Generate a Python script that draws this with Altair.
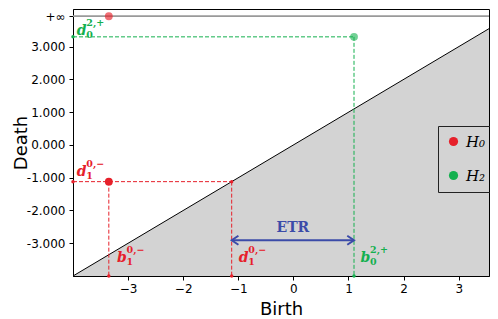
import altair as alt
import pandas as pd

# ---- axis extents and special values ----
x_min, x_max = -4.0, 3.55
y_min, y_max = -4.0, 4.15
inf_y = 3.93

x_ticks = [-3, -2, -1, 0, 1, 2, 3]
y_ticks = [-3.0, -2.0, -1.0, 0.0, 1.0, 2.0, 3.0, inf_y]

# ---- persistence points ----
pt_series = ["H0", "H0", "H2"]
pt_birth = [-3.35, -3.35, 1.1]
pt_death = [inf_y, -1.12, 3.3]
pt_alpha = [0.65, 1.0, 0.6]

# ---- dashed guide segments ----
seg_series = ["H0", "H0", "H0", "H2", "H2"]
seg_x = [-4.0, -3.35, -1.12, -4.0, 1.1]
seg_y = [-1.12, -1.12, -1.12, 3.3, 3.3]
seg_x2 = [-1.12, -3.35, -1.12, 1.1, 1.1]
seg_y2 = [-1.12, -4.0, -4.0, 3.3, -4.0]

# ---- small end dots ----
dot_series = ["H0", "H0", "H0", "H0", "H2", "H2"]
dot_x = [-4.0, -3.35, -1.12, -1.12, -4.0, 1.1]
dot_y = [-1.12, -4.0, -1.12, -4.0, 3.3, -4.0]

# ---- annotation labels ----
lab_series = ["H2", "H0", "H0", "H0", "H2"]
lab_base = ["d", "d", "b", "d", "b"]
lab_sup = ["2,+", "0,−", "0,−", "0,−", "2,+"]
lab_sub = ["0", "1", "1", "1", "0"]
lab_x = [-3.93, -3.93, -3.2, -0.99, 1.22]
lab_y = [3.36, -0.96, -3.57, -3.57, -3.57]

# ---- ETR arrow ----
etr_x = [-1.12]
etr_x2 = [1.1]
etr_y = [-2.91]
etr_text = ["ETR"]
etr_text_x = [-0.01]
etr_text_y = [-2.67]

series_colors = {"H0": "#e6202a", "H2": "#14b04f"}
blue = "#3b4ba8"

xs = alt.Scale(domain=[x_min, x_max], nice=False, zero=False)
ys = alt.Scale(domain=[y_min, y_max], nice=False, zero=False)

diag = pd.DataFrame({"x": [x_min, x_max], "y": [x_min, x_max], "floor": [y_min, y_min]})
pts = pd.DataFrame({"series": pt_series, "birth": pt_birth, "death": pt_death, "alpha": pt_alpha})
segs = pd.DataFrame({"series": seg_series, "x": seg_x, "y": seg_y, "x2": seg_x2, "y2": seg_y2})
segs["col"] = segs["series"].map(series_colors)
dots = pd.DataFrame({"series": dot_series, "x": dot_x, "y": dot_y})
dots["col"] = dots["series"].map(series_colors)
labs = pd.DataFrame({"series": lab_series, "base": lab_base, "sup": lab_sup, "sub": lab_sub,
                     "x": lab_x, "y": lab_y})
labs["col"] = labs["series"].map(series_colors)
etr = pd.DataFrame({"x": etr_x, "x2": etr_x2, "y": etr_y})
etr_t = pd.DataFrame({"t": etr_text, "x": etr_text_x, "y": etr_text_y})

y_label_expr = ("datum.value > 3.5 ? '+∞' : replace(format(datum.value, '.3f'), '\u2212', '-')")

X_AX = alt.Axis(values=x_ticks, format="d", labelPadding=3, titleY=38, titleX=208,
                titleBaseline="alphabetic", labelOverlap=False, labelFlush=False)
Y_AX = alt.Axis(values=y_ticks, labelExpr=y_label_expr, labelPadding=4,
                labelOverlap=False, labelFlush=False, labelSeparation=0,
                titleX=-47, titleY=133.5, titleBaseline="alphabetic")


def X(field):
    return alt.X(field, scale=xs, title="Birth", axis=X_AX)


def Y(field):
    return alt.Y(field, scale=ys, title="Death", axis=Y_AX)


area = alt.Chart(diag).mark_area(color="#d3d3d3").encode(
    x=X("x:Q"), y=Y("y:Q"), y2="floor:Q")
diag_line = alt.Chart(diag).mark_line(color="black", strokeWidth=1).encode(
    x=X("x:Q"), y=Y("y:Q"))
inf_rule = alt.Chart(diag).mark_rule(color="#9a9a9a", strokeWidth=1.5).encode(
    y=alt.datum(inf_y, scale=ys, title="Death", axis=Y_AX))

seg_layer = alt.Chart(segs).mark_rule(strokeDash=[4, 2], strokeWidth=1).encode(
    x=X("x:Q"), y=Y("y:Q"), x2="x2:Q", y2="y2:Q",
    color=alt.Color("col:N", scale=None))
dot_layer = alt.Chart(dots).mark_circle(size=12, opacity=1).encode(
    x=X("x:Q"), y=Y("y:Q"), color=alt.Color("col:N", scale=None))

pt_layer = alt.Chart(pts).mark_circle(size=62).encode(
    x=X("birth:Q"), y=Y("death:Q"),
    opacity=alt.Opacity("alpha:Q", scale=None),
    color=alt.Color("series:N",
                    scale=alt.Scale(domain=["H0", "H2"], range=[series_colors["H0"], series_colors["H2"]]),
                    legend=alt.Legend(orient="none", legendX=365, legendY=117, title=None,
                                      strokeColor="#222222", padding=8, rowPadding=18,
                                      labelFont="DejaVu Serif", labelFontStyle="italic",
                                      labelFontSize=15, labelColor="black", labelOffset=5,
                                      symbolType="circle", symbolSize=85, symbolOpacity=1,
                                      symbolStrokeWidth=0,
                                      labelExpr="datum.label == 'H0' ? 'H\u2080' : 'H\u2082'")))

etr_rule = alt.Chart(etr).mark_rule(color=blue, strokeWidth=2).encode(
    x=X("x:Q"), x2="x2:Q", y=Y("y:Q"))
arrow_l = alt.Chart(etr).mark_point(shape="M1.5,-1L0,0L1.5,1", size=81, filled=False,
                                    strokeWidth=2, color=blue, opacity=1).encode(
    x=X("x:Q"), y=Y("y:Q"))
arrow_r = alt.Chart(etr).mark_point(shape="M-1.5,-1L0,0L-1.5,1", size=81, filled=False,
                                    strokeWidth=2, color=blue, opacity=1).encode(
    x=X("x2:Q"), y=Y("y:Q"))
etr_label = alt.Chart(etr_t).mark_text(font="DejaVu Serif", fontWeight="bold", fontSize=14,
                                       color=blue, align="center", baseline="alphabetic").encode(
    x=X("x:Q"), y=Y("y:Q"), text="t:N")

base_t = alt.Chart(labs).mark_text(font="DejaVu Serif", fontWeight="bold", fontStyle="italic",
                                   fontSize=14, align="left", baseline="alphabetic").encode(
    x=X("x:Q"), y=Y("y:Q"), text="base:N", color=alt.Color("col:N", scale=None))
sup_t = alt.Chart(labs).mark_text(font="DejaVu Serif", fontWeight="bold", fontSize=9.5,
                                  align="left", baseline="alphabetic", dx=9.5, dy=-9).encode(
    x=X("x:Q"), y=Y("y:Q"), text="sup:N", color=alt.Color("col:N", scale=None))
sub_t = alt.Chart(labs).mark_text(font="DejaVu Serif", fontWeight="bold", fontSize=9.5,
                                  align="left", baseline="alphabetic", dx=9.5, dy=3).encode(
    x=X("x:Q"), y=Y("y:Q"), text="sub:N", color=alt.Color("col:N", scale=None))

chart = alt.layer(
    area, diag_line, inf_rule, seg_layer, dot_layer, etr_rule, arrow_l, arrow_r,
    etr_label, base_t, sup_t, sub_t, pt_layer
).properties(
    width=416, height=267,
    autosize=alt.AutoSizeParams(type="none"),
    padding={"left": 65, "top": 1, "right": 1, "bottom": 43},
).configure_view(
    stroke="black", strokeWidth=1
).configure_axis(
    domainColor="black", tickColor="black", labelColor="black", titleColor="black",
    labelFont="DejaVu Sans", labelFontSize=12, titleFont="DejaVu Sans", titleFontSize=18,
    titleFontWeight="normal", grid=False, tickSize=4, domainWidth=1, tickWidth=1,
    labelOverlap=False,
)

chart.save("out.html", embed_options={"renderer": "svg", "actions": False})
